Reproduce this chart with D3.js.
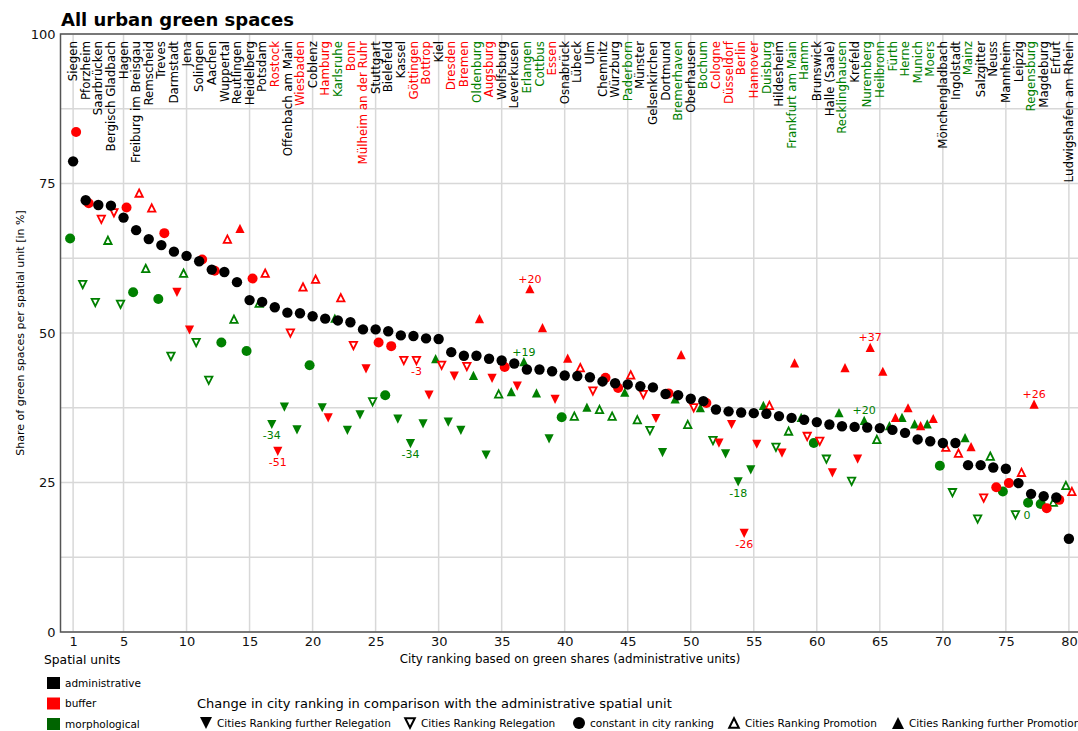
<!DOCTYPE html>
<html>
<head>
<meta charset="utf-8">
<script src="https://cdn.jsdelivr.net/npm/d3@7"></script>
<style>
body { margin: 0; background: #fff; }
text { font-family: "DejaVu Sans", sans-serif; }
</style>
</head>
<body>
<div id="chart-area"></div>
<script>
// city names, ordered by rank of the administrative unit
var cities = ["Siegen","Pforzheim","Saarbrücken","Bergisch Gladbach","Hagen","Freiburg im Breisgau","Remscheid","Treves","Darmstadt","Jena",
  "Solingen","Aachen","Wuppertal","Reutlingen","Heidelberg","Potsdam","Rostock","Offenbach am Main","Wiesbaden","Coblenz",
  "Hamburg","Karlsruhe","Bonn","Mülheim an der Ruhr","Stuttgart","Bielefeld","Kassel","Göttingen","Bottrop","Kiel",
  "Dresden","Bremen","Oldenburg","Augsburg","Wolfsburg","Leverkusen","Erlangen","Cottbus","Essen","Osnabrück",
  "Lübeck","Ulm","Chemnitz","Würzburg","Paderborn","Münster","Gelsenkirchen","Dortmund","Bremerhaven","Oberhausen",
  "Bochum","Cologne","Düsseldorf","Berlin","Hannover","Duisburg","Hildesheim","Frankfurt am Main","Hamm","Brunswick",
  "Halle (Saale)","Recklinghausen","Krefeld","Nuremberg","Heilbronn","Fürth","Herne","Munich","Moers","Mönchengladbach",
  "Ingolstadt","Mainz","Salzgitter","Neuss","Mannheim","Leipzig","Regensburg","Magdeburg","Erfurt","Ludwigshafen am Rhein"];

// which spatial unit colours the city name (a = administrative, b = buffer, m = morphological)
var labelUnit = ["a","a","a","a","a","a","a","a","a","a",
  "a","a","a","a","a","a","b","a","b","a",
  "b","m","b","b","a","a","a","b","b","a",
  "b","b","m","b","a","a","m","m","b","a",
  "a","a","a","a","m","a","a","a","m","a",
  "m","b","b","b","b","m","a","m","m","a",
  "a","m","a","m","m","m","m","m","m","a",
  "a","m","a","a","a","a","m","a","a","a"];

var admin = [78.7,72.2,71.4,71.3,69.3,67.2,65.7,64.7,63.6,62.9,
  62.0,60.6,60.2,58.5,55.5,55.2,54.3,53.4,53.3,52.8,
  52.4,52.1,51.8,50.6,50.6,50.3,49.6,49.5,49.1,49.0,
  46.8,46.2,46.2,45.7,45.4,44.9,43.9,43.9,43.6,42.9,
  42.8,42.6,41.9,41.6,41.4,41.1,40.9,39.8,39.6,39.0,
  38.6,37.2,36.9,36.7,36.6,36.5,36.1,35.8,35.5,35.1,
  34.7,34.4,34.3,34.2,34.1,33.8,33.3,32.2,31.9,31.6,
  31.6,27.9,27.9,27.5,27.3,24.9,23.1,22.7,22.5,15.6];

var buffer = [83.6,71.7,69.0,70.1,71.0,73.4,70.9,66.7,56.8,50.5,
  62.3,60.4,65.7,67.5,59.1,60.0,30.2,50.0,57.7,59.0,
  35.8,55.9,47.9,44.0,48.4,47.8,45.4,45.4,39.6,44.6,
  42.8,44.4,52.4,42.4,44.3,41.1,57.4,50.9,38.9,45.8,
  44.2,40.3,42.5,40.8,43.0,39.7,35.7,39.9,46.4,37.5,
  38.3,31.6,34.7,16.5,31.4,37.9,29.9,45.0,32.7,31.9,
  26.6,44.2,28.9,47.6,43.6,35.9,37.5,34.5,35.7,30.9,
  29.9,31.0,22.4,24.2,24.9,26.7,38.1,20.7,22.1,23.5];

// change in ranking: -2 further relegation, -1 relegation, 0 constant, 1 promotion, 2 further promotion
var bufferChange = [0,0,-1,-1,0,1,1,0,-2,-2,
  0,0,1,2,0,1,-2,-1,1,1,
  -2,1,-1,-2,0,0,-1,-1,-2,-1,
  -2,-1,2,-2,0,-2,2,2,-2,2,
  1,-1,0,0,1,-1,-2,0,2,-1,
  0,-2,-2,-2,-2,1,-2,2,-1,-1,
  -2,2,-2,2,2,2,2,2,2,1,
  1,2,-1,0,0,1,2,0,0,1];

var morph = [65.8,58.1,55.1,65.5,54.8,56.8,60.8,55.7,46.1,60.0,
  48.4,42.1,48.4,52.3,47.0,55.0,34.7,37.6,33.8,44.6,
  37.5,52.5,33.7,36.3,38.5,39.6,35.6,31.5,34.8,45.7,
  35.1,33.7,42.9,29.6,39.8,40.2,45.2,40.0,32.3,35.9,
  36.1,37.6,37.2,36.1,40.1,35.5,33.7,30.0,39.0,34.7,
  37.5,32.0,29.8,25.1,27.1,37.9,30.9,33.6,35.9,31.6,
  28.9,36.7,25.2,35.4,32.2,34.5,35.9,34.8,34.8,27.8,
  23.3,32.5,18.9,29.4,23.5,19.6,21.6,21.4,21.7,24.5];

var morphChange = [0,-1,-1,1,-1,0,1,0,-1,1,
  -1,-1,0,1,0,1,-2,-2,-2,0,
  -2,2,-2,-2,-1,0,-2,-2,-2,2,
  -2,-2,2,-2,1,2,2,2,-2,0,
  1,2,1,1,2,1,-1,-2,2,1,
  2,-1,-2,-2,-2,2,-1,1,2,0,
  -1,2,-1,2,1,2,2,2,2,0,
  -1,2,-1,1,0,-1,0,0,1,1];

// rank shifts written next to some markers
var notes = [
  {rank:17, unit:"m", text:"-34"}, {rank:17, unit:"b", text:"-51"},
  {rank:28, unit:"b", text:"-3"},  {rank:28, unit:"m", text:"-34"},
  {rank:37, unit:"b", text:"+20"}, {rank:37, unit:"m", text:"+19"},
  {rank:54, unit:"m", text:"-18"}, {rank:54, unit:"b", text:"-26"},
  {rank:64, unit:"b", text:"+37"}, {rank:64, unit:"m", text:"+20"},
  {rank:76, unit:"m", text:"0"},   {rank:77, unit:"b", text:"+26"}
];

var xTicks = [1,5,10,15,20,25,30,35,40,45,50,55,60,65,70,75,80];
var yTicks = [0,25,50,75,100];

var unitNames = ["administrative","buffer","morphological"];
var changeNames = ["Cities Ranking further Relegation","Cities Ranking Relegation","constant in city ranking","Cities Ranking Promotion","Cities Ranking further Promotion"];

var colors = {a:"#000000", b:"#ff0000", m:"#008000"};
var legendColors = ["#000000","#ff0000","#006400"];

var margin = {top: 34, left: 60.5};
var width = 1021, height = 598;

var x = d3.scaleLinear().domain([0, 81]).range([0, width]);
var y = d3.scaleLinear().domain([0, 100]).range([height, 0]);

var svg = d3.select("#chart-area").append("svg")
    .attr("width", 1078)
    .attr("height", 731);

var g = svg.append("g")
    .attr("transform", "translate(" + margin.left + "," + margin.top + ")");

// grid
g.selectAll(".vgrid").data(xTicks).enter().append("line")
    .attr("x1", function(d){ return x(d); }).attr("x2", function(d){ return x(d); })
    .attr("y1", 0).attr("y2", height)
    .attr("stroke", "#d8d8d8").attr("stroke-width", 1.5);

g.selectAll(".hgrid").data(d3.range(0, 100.1, 12.5)).enter().append("line")
    .attr("x1", 0).attr("x2", width)
    .attr("y1", function(d){ return y(d); }).attr("y2", function(d){ return y(d); })
    .attr("stroke", "#d8d8d8").attr("stroke-width", 1.5);

g.append("rect")
    .attr("width", width).attr("height", height)
    .attr("fill", "none").attr("stroke", "#555").attr("stroke-width", 1.5);

// axes
var xAxis = g.append("g")
    .attr("transform", "translate(0," + height + ")")
    .call(d3.axisBottom(x).tickValues(xTicks).tickSize(0).tickPadding(5));
var yAxis = g.append("g")
    .call(d3.axisLeft(y).tickValues(yTicks).tickSize(0).tickPadding(5));
xAxis.select(".domain").remove();
yAxis.select(".domain").remove();
svg.selectAll(".tick text")
    .attr("font-family", "DejaVu Sans").attr("font-size", "13px").attr("fill", "#111");

// city names across the top
g.selectAll(".city").data(cities).enter().append("text")
    .attr("class", "city")
    .attr("transform", function(d, i){ return "translate(" + x(i + 1) + ",7) rotate(-90)"; })
    .attr("dy", "0.35em")
    .attr("text-anchor", "end")
    .attr("font-size", "11.8px")
    .attr("fill", function(d, i){ return colors[labelUnit[i]]; })
    .text(function(d){ return d; });

// marker shapes
function shape(code, s) {
  if (code === 0) return d3.symbol().type(d3.symbolCircle).size(Math.PI * s * s)();
  var k = code > 0 ? 1 : -1;
  var h = Math.abs(code) === 2 ? s : s * 0.8;
  return "M0," + (-k * h) + "L" + h + "," + (k * h) + "L" + (-h) + "," + (k * h) + "Z";
}

function drawSeries(values, changes, unit, dx) {
  var col = colors[unit];
  g.selectAll(".pt-" + unit).data(values).enter().append("path")
      .attr("class", "pt-" + unit)
      .attr("transform", function(d, i){ return "translate(" + (x(i + 1) + dx) + "," + y(d) + ")"; })
      .attr("d", function(d, i){ return shape(changes[i], changes[i] === 0 ? 5 : 4.6); })
      .attr("fill", function(d, i){ return Math.abs(changes[i]) === 1 ? "#fff" : col; })
      .attr("stroke", function(d, i){ return Math.abs(changes[i]) === 1 ? col : "none"; })
      .attr("stroke-width", 1.8);
}

drawSeries(morph, morphChange, "m", -3);
drawSeries(buffer, bufferChange, "b", 3);

g.selectAll(".pt-a").data(admin).enter().append("circle")
    .attr("cx", function(d, i){ return x(i + 1); })
    .attr("cy", function(d){ return y(d); })
    .attr("r", 5.2)
    .attr("fill", "#000");

// rank shift notes
g.selectAll(".note").data(notes).enter().append("text")
    .attr("class", "note")
    .attr("font-size", "11px")
    .attr("fill", function(d){ return colors[d.unit]; })
    .attr("text-anchor", function(d){ return d.text === "0" ? "start" : "middle"; })
    .attr("dy", "0.35em")
    .attr("x", function(d){
      var dx = d.unit === "b" ? 3 : -3;
      return x(d.rank) + dx + (d.text === "0" ? 8 : 0);
    })
    .attr("y", function(d){
      var v = d.unit === "b" ? buffer[d.rank - 1] : morph[d.rank - 1];
      var c = d.unit === "b" ? bufferChange[d.rank - 1] : morphChange[d.rank - 1];
      if (d.text === "0") return y(v);
      return y(v) + (c < 0 ? 11 : -10);
    })
    .text(function(d){ return d.text; });

// titles
svg.append("text")
    .attr("x", 61).attr("y", 26)
    .attr("font-size", "18px").attr("font-weight", "bold")
    .text("All urban green spaces");

svg.append("text")
    .attr("transform", "translate(20," + (margin.top + height / 2) + ") rotate(-90)")
    .attr("text-anchor", "middle")
    .attr("dy", "0.35em")
    .attr("font-size", "11px")
    .text("Share of green spaces per spatial unit [in %]");

svg.append("text")
    .attr("x", 570).attr("y", 659)
    .attr("text-anchor", "middle").attr("dy", "0.35em")
    .attr("font-size", "11.8px")
    .text("City ranking based on green shares (administrative units)");

// legend: spatial units
svg.append("text")
    .attr("x", 44).attr("y", 660).attr("dy", "0.35em")
    .attr("font-size", "12.3px")
    .text("Spatial units");

var unitLeg = svg.selectAll(".unitleg").data(unitNames).enter().append("g")
    .attr("transform", function(d, i){ return "translate(47," + (683 + i * 20.5) + ")"; });
unitLeg.append("rect")
    .attr("x", 0).attr("y", -6).attr("width", 13).attr("height", 12)
    .attr("fill", function(d, i){ return legendColors[i]; });
unitLeg.append("text")
    .attr("x", 18).attr("dy", "0.35em")
    .attr("font-size", "10.5px")
    .text(function(d){ return d; });

// legend: change in ranking
svg.append("text")
    .attr("x", 197).attr("y", 703).attr("dy", "0.35em")
    .attr("font-size", "13px")
    .text("Change in city ranking in comparison with the administrative spatial unit");

var changePos = [206, 410, 579, 734, 898];
var changeLeg = svg.selectAll(".chgleg").data(changeNames).enter().append("g")
    .attr("transform", function(d, i){ return "translate(" + changePos[i] + ",723)"; });
changeLeg.append("path")
    .attr("d", function(d, i){ return shape(i - 2, 6); })
    .attr("fill", function(d, i){ return i === 1 || i === 3 ? "#fff" : "#000"; })
    .attr("stroke", function(d, i){ return i === 1 || i === 3 ? "#000" : "none"; })
    .attr("stroke-width", 2);
changeLeg.append("text")
    .attr("x", 11).attr("dy", "0.35em")
    .attr("font-size", "10.5px")
    .text(function(d){ return d; });
</script>
</body>
</html>
